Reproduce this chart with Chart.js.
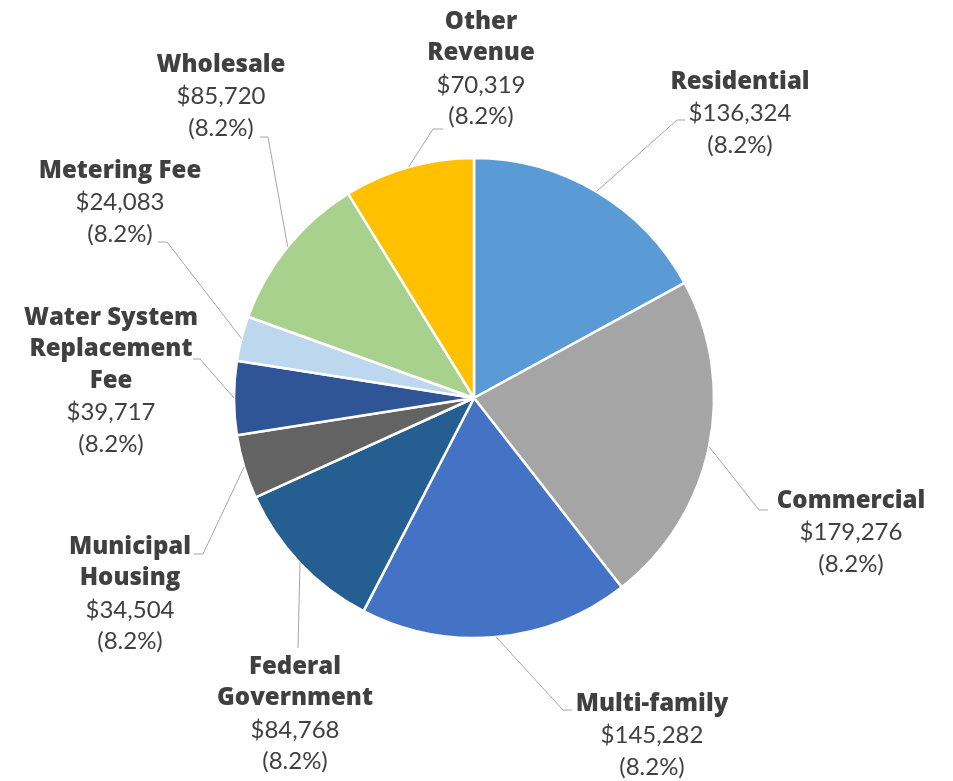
<!DOCTYPE html>
<html>
<head>
<meta charset="utf-8">
<script src="https://cdn.jsdelivr.net/npm/chart.js@4"></script>
<style>
  html, body { margin: 0; padding: 0; background: #ffffff; }
  #wrap { width: 953px; height: 781px; position: relative; }
</style>
</head>
<body>
<div id="wrap"><canvas id="c" width="953" height="781"></canvas></div>
<script>
// ---- data ----
const categories = ['Residential', 'Commercial', 'Multi-family', 'Federal Government',
  'Municipal Housing', 'Water System Replacement Fee', 'Metering Fee', 'Wholesale', 'Other Revenue'];
const revenue = [136324, 179276, 145282, 84768, 34504, 39717, 24083, 85720, 70319];
const percentLabels = ['(8.2%)', '(8.2%)', '(8.2%)', '(8.2%)', '(8.2%)', '(8.2%)', '(8.2%)', '(8.2%)', '(8.2%)'];
const nameLines = [['Residential'], ['Commercial'], ['Multi-family'], ['Federal', 'Government'],
  ['Municipal', 'Housing'], ['Water System', 'Replacement', 'Fee'], ['Metering Fee'], ['Wholesale'], ['Other', 'Revenue']];

// ---- styles / layout ----
const colors = ['#5B9BD5', '#A5A5A5', '#4472C4', '#255E91', '#636363', '#2F5597', '#BDD7EE', '#A9D18E', '#FFC000'];
const labelLayout = [
  { cx: 740, y0: 82,  elbow: [677, 120], end: [685, 120] },
  { cx: 851, y0: 501, elbow: [759, 510], end: [768, 510] },
  { cx: 652, y0: 704, elbow: [563, 710], end: [572, 710] },
  { cx: 295, y0: 667, elbow: [298, 648], end: [298, 648] },
  { cx: 130, y0: 547, elbow: [203, 554], end: [194, 554] },
  { cx: 111, y0: 318, elbow: [200, 359], end: [193, 359] },
  { cx: 120, y0: 171, elbow: [167, 242], end: [158, 242] },
  { cx: 221, y0: 65,  elbow: [268, 137], end: [260, 137] },
  { cx: 481, y0: 22,  elbow: [433, 129], end: [443, 129] }
];
const LINE_H = 31.5;
const TEXT_COLOR = '#404040';
const BOLD_FONT = '800 24px "Open Sans", Lato, sans-serif';
const REG_FONT = '24px Lato, "Open Sans", sans-serif';

const labelPlugin = {
  id: 'excelLabels',
  afterDatasetsDraw(chart) {
    const ctx = chart.ctx;
    const meta = chart.getDatasetMeta(0);
    ctx.save();
    meta.data.forEach((arc, i) => {
      const p = arc.getProps(['x', 'y', 'startAngle', 'endAngle', 'outerRadius'], true);
      const mid = (p.startAngle + p.endAngle) / 2;
      const sx = p.x + Math.cos(mid) * p.outerRadius;
      const sy = p.y + Math.sin(mid) * p.outerRadius;
      const L = labelLayout[i];
      ctx.strokeStyle = '#A6A6A6';
      ctx.lineWidth = 1;
      ctx.beginPath();
      ctx.moveTo(sx, sy);
      ctx.lineTo(L.elbow[0], L.elbow[1]);
      ctx.lineTo(L.end[0], L.end[1]);
      ctx.stroke();

      ctx.fillStyle = TEXT_COLOR;
      ctx.textAlign = 'center';
      ctx.textBaseline = 'middle';
      let y = L.y0;
      ctx.font = BOLD_FONT;
      nameLines[i].forEach(t => { ctx.fillText(t, L.cx, y); y += LINE_H; });
      ctx.font = REG_FONT;
      ctx.fillText('$' + revenue[i].toLocaleString('en-US'), L.cx, y); y += LINE_H;
      ctx.fillText(percentLabels[i], L.cx, y);
    });
    ctx.restore();
  }
};

new Chart(document.getElementById('c'), {
  type: 'pie',
  data: {
    labels: categories,
    datasets: [{
      data: revenue,
      backgroundColor: colors,
      borderColor: '#ffffff',
      borderWidth: 2.5,
      hoverOffset: 0
    }]
  },
  options: {
    responsive: false,
    animation: false,
    radius: 240,
    layout: { padding: { left: 234, right: 239, top: 158, bottom: 143 } },
    plugins: { legend: { display: false }, tooltip: { enabled: false } }
  },
  plugins: [labelPlugin]
});
</script>
</body>
</html>
